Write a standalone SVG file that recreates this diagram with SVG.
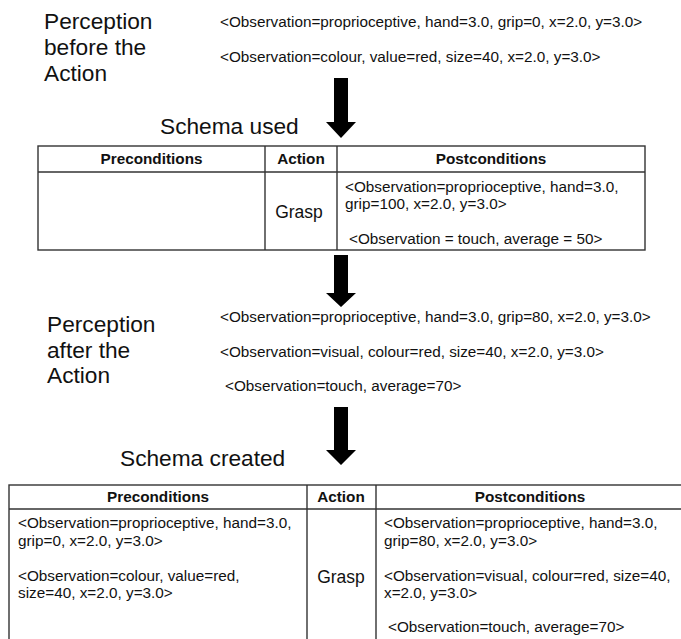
<svg xmlns="http://www.w3.org/2000/svg" width="681" height="639" viewBox="0 0 681 639">
<style>
text{font-family:"Liberation Sans",Arial,sans-serif;fill:#111}
.big{font-size:22.7px}
.obs{font-size:15.3px}
.hd{font-size:15.3px;font-weight:bold;text-anchor:middle}
.act{font-size:17.5px;text-anchor:middle}
.tb{fill:none;stroke:#333;stroke-width:1.4}
.arr{fill:#000}
</style>
<rect width="681" height="639" fill="#fff"/>
<g id="perception-before">
<text class="big" x="44" y="28.5">Perception</text>
<text class="big" x="44" y="54.5">before the</text>
<text class="big" x="44" y="80.5">Action</text>
<text class="obs" x="220" y="26.5">&lt;Observation=proprioceptive, hand=3.0, grip=0, x=2.0, y=3.0&gt;</text>
<text class="obs" x="220" y="61.5">&lt;Observation=colour, value=red, size=40, x=2.0, y=3.0&gt;</text>
</g>
<g id="schema-used">
<text class="big" x="160" y="134">Schema used</text>
<rect class="tb" x="38" y="146" width="607" height="104"/>
<line class="tb" x1="38" y1="172" x2="645" y2="172"/>
<line class="tb" x1="265" y1="146" x2="265" y2="250"/>
<line class="tb" x1="337" y1="146" x2="337" y2="250"/>
<text class="hd" x="151.5" y="163.5">Preconditions</text>
<text class="hd" x="301" y="163.5">Action</text>
<text class="hd" x="491" y="163.5">Postconditions</text>
<text class="act" x="299" y="218">Grasp</text>
<text class="obs" x="345" y="191.5">&lt;Observation=proprioceptive, hand=3.0,</text>
<text class="obs" x="345" y="208.5">grip=100, x=2.0, y=3.0&gt;</text>
<text class="obs" x="349" y="243.5">&lt;Observation = touch, average = 50&gt;</text>
</g>
<g id="perception-after">
<text class="big" x="47" y="332">Perception</text>
<text class="big" x="47" y="358">after the</text>
<text class="big" x="47" y="383">Action</text>
<text class="obs" x="220" y="321.5">&lt;Observation=proprioceptive, hand=3.0, grip=80, x=2.0, y=3.0&gt;</text>
<text class="obs" x="220" y="356.5">&lt;Observation=visual, colour=red, size=40, x=2.0, y=3.0&gt;</text>
<text class="obs" x="225" y="390.5">&lt;Observation=touch, average=70&gt;</text>
</g>
<g id="schema-created">
<text class="big" x="120" y="466">Schema created</text>
<rect class="tb" x="9" y="485" width="680" height="170"/>
<line class="tb" x1="9" y1="509" x2="681" y2="509"/>
<line class="tb" x1="307" y1="485" x2="307" y2="639"/>
<line class="tb" x1="376" y1="485" x2="376" y2="639"/>
<text class="hd" x="158" y="501.5">Preconditions</text>
<text class="hd" x="341" y="501.5">Action</text>
<text class="hd" x="530" y="501.5">Postconditions</text>
<text class="obs" x="18" y="527.5">&lt;Observation=proprioceptive, hand=3.0,</text>
<text class="obs" x="18" y="545.5">grip=0, x=2.0, y=3.0&gt;</text>
<text class="obs" x="18" y="580.5">&lt;Observation=colour, value=red,</text>
<text class="obs" x="18" y="597.5">size=40, x=2.0, y=3.0&gt;</text>
<text class="act" x="341" y="583">Grasp</text>
<text class="obs" x="384" y="527.5">&lt;Observation=proprioceptive, hand=3.0,</text>
<text class="obs" x="384" y="545.5">grip=80, x=2.0, y=3.0&gt;</text>
<text class="obs" x="384" y="580.5">&lt;Observation=visual, colour=red, size=40,</text>
<text class="obs" x="384" y="597.5">x=2.0, y=3.0&gt;</text>
<text class="obs" x="388" y="631.5">&lt;Observation=touch, average=70&gt;</text>
</g>
<g id="connectors">
<polygon class="arr" points="334,78 348,78 348,122 356,122 341,138 326,122 334,122"/>
<polygon class="arr" points="334,255 348,255 348,293 356,293 341,307 326,293 334,293"/>
<polygon class="arr" points="334,407 348,407 348,450 356,450 341,465 326,450 334,450"/>
</g>
</svg>
